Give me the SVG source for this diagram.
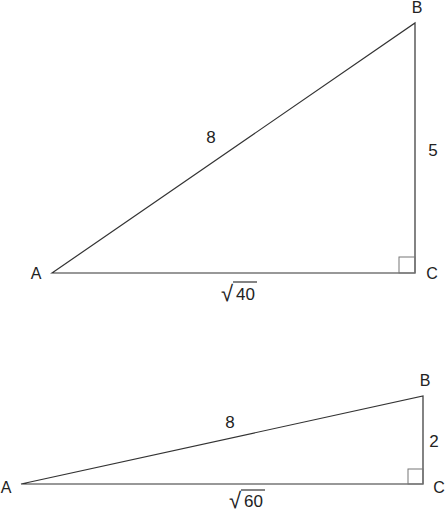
<svg xmlns="http://www.w3.org/2000/svg" width="445" height="512" viewBox="0 0 445 512">
<style>
.side{stroke:#333;stroke-width:1.2;fill:none}
.sq{stroke:#777;stroke-width:1;fill:none}
.lbl{font-family:"Liberation Sans",Arial,sans-serif;font-size:16px;fill:#222}
.num{font-family:"Liberation Sans",Arial,sans-serif;font-size:17px;fill:#222}
.rad{font-family:"Liberation Sans",Arial,sans-serif;font-size:22px;fill:#222}
</style>
<rect width="445" height="512" fill="#fff"/>
<g id="triangle1">
<polygon class="side" points="52,273 415,23 415,273"/>
<rect class="sq" x="399" y="257" width="16" height="16"/>
</g>
<g id="labels1">
<text class="lbl" x="36" y="279" text-anchor="middle">A</text>
<text class="lbl" x="417" y="13" text-anchor="middle">B</text>
<text class="lbl" x="432" y="279" text-anchor="middle">C</text>
<text class="num" x="211" y="143" text-anchor="middle">8</text>
<text class="num" x="433" y="156" text-anchor="middle">5</text>
<text class="rad" x="221" y="301">√</text>
<line class="side" x1="233" y1="282" x2="257" y2="282"/>
<text class="num" x="236" y="300">40</text>
</g>
<g id="triangle2">
<polygon class="side" points="21,484 423,396 423,484"/>
<rect class="sq" x="408" y="469" width="15" height="15"/>
</g>
<g id="labels2">
<text class="lbl" x="6" y="493" text-anchor="middle">A</text>
<text class="lbl" x="425" y="386" text-anchor="middle">B</text>
<text class="lbl" x="439" y="493" text-anchor="middle">C</text>
<text class="num" x="230" y="428" text-anchor="middle">8</text>
<text class="num" x="434" y="447" text-anchor="middle">2</text>
<text class="rad" x="229" y="508">√</text>
<line class="side" x1="241" y1="490" x2="265" y2="490"/>
<text class="num" x="244" y="507">60</text>
</g>
</svg>
